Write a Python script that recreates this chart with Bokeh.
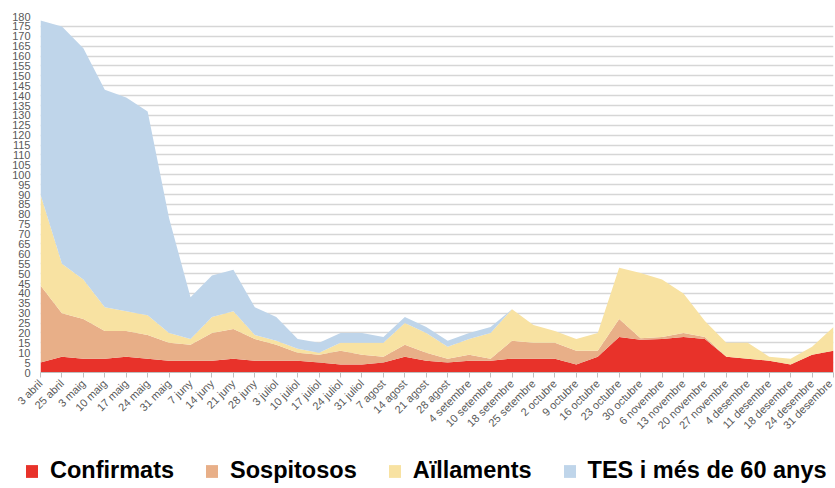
import math
from bokeh.plotting import figure
from bokeh.layouts import column
from bokeh.models import Range1d, FixedTicker, Legend, LegendItem, ColumnDataSource
from bokeh.embed import file_html
from bokeh.resources import INLINE

labels = ["3 abril", "25 abril", "3 maig", "10 maig", "17 maig", "24 maig", "31 maig",
          "7 juny", "14 juny", "21 juny", "28 juny", "3 juliol", "10 juliol", "17 juliol",
          "24 juliol", "31 juliol", "7 agost", "14 agost", "21 agost", "28 agost",
          "4 setembre", "10 setembre", "18 setembre", "25 setembre", "2 octubre",
          "9 octubre", "16 octubre", "23 octubre", "30 octubre", "6 novembre",
          "13 novembre", "20 novembre", "27 novembre", "4 desembre", "11 desembre",
          "18 desembre", "24 desembre", "31 desembre"]

confirmats = [5, 8, 7, 7, 8, 7, 6, 6, 6, 7, 6, 6, 6, 5, 4, 4, 5, 8, 6, 5,
              6, 6, 7, 7, 7, 4, 8, 18, 16.5, 17, 18, 17, 8, 7, 6, 4, 9, 11]
sospitosos = [39, 22, 20, 14, 13, 12, 9, 8, 14, 15, 11, 8, 4, 4, 7, 5, 3, 6, 4, 2,
              3, 1, 9, 8, 8, 7, 3, 9, 0.8, 1, 2, 1, 0, 0, 0, 0, 0, 0]
aillaments = [46, 25, 20, 12, 10, 10, 5, 3, 8, 9, 2, 2, 2, 1, 4, 6, 7, 11, 10, 6,
              8, 13, 16, 9, 6, 6, 9, 26, 33, 29, 20, 8, 7, 8, 2, 3, 4, 12]
tes = [88, 120, 117, 110, 108, 103, 58, 21, 21, 21, 14, 12, 5, 5, 5, 5, 3, 3, 3, 3,
       3, 3, 0, 0, 0, 0, 0, 0, 0, 0, 0, 0, 0, 0, 0, 0, 0, 0]

series_names = ["Confirmats", "Sospitosos", "Aïllaments", "TES i més de 60 anys"]
colors = ["#E8322A", "#E8AF88", "#F8E2A2", "#BFD5EA"]

n = len(labels)
src = ColumnDataSource(dict(x=list(range(n)), conf=confirmats, sosp=sospitosos,
                            ail=aillaments, tes=tes))

p = figure(width=834, height=455, output_backend="svg", toolbar_location=None,
           x_range=Range1d(0, n - 1), y_range=Range1d(0, 180),
           min_border_left=40, min_border_right=1, min_border_top=16,
           min_border_bottom=83)
p.outline_line_color = None
p.background_fill_color = "white"
p.frame_align = False

rs = p.varea_stack(stackers=["conf", "sosp", "ail", "tes"], x="x", color=colors,
                   source=src)

# axes
p.xaxis.ticker = FixedTicker(ticks=list(range(n)))
p.xaxis.major_label_overrides = {i: l for i, l in enumerate(labels)}
p.xaxis.major_label_orientation = math.pi / 4
p.xaxis.major_label_text_font = "Liberation Sans"
p.xaxis.major_label_text_font_size = "11px"
p.xaxis.major_label_text_color = "#595959"
p.xaxis.axis_line_color = "#BFBFBF"
p.xaxis.major_tick_line_color = "#BFBFBF"
p.xaxis.major_tick_out = 5
p.xaxis.major_tick_in = 0
p.xaxis.minor_tick_line_color = None
p.xaxis.major_label_standoff = 4

p.yaxis.ticker = FixedTicker(ticks=list(range(0, 181, 5)))
p.yaxis.major_label_text_font = "Liberation Sans"
p.yaxis.major_label_text_font_size = "11px"
p.yaxis.major_label_text_color = "#595959"
p.yaxis.axis_line_color = None
p.yaxis.major_tick_line_color = None
p.yaxis.major_tick_out = 0
p.yaxis.minor_tick_line_color = None
p.yaxis.major_label_standoff = 10

p.xgrid.grid_line_color = None
p.ygrid.ticker = FixedTicker(ticks=list(range(0, 181, 5)))
p.ygrid.grid_line_color = "#D6D6D6"
p.ygrid.grid_line_width = 1.5
p.ygrid.level = "image"

# legend strip
p2 = figure(width=834, height=32, output_backend="svg", toolbar_location=None,
            x_range=Range1d(0, 1), y_range=Range1d(0, 1),
            x_axis_type=None, y_axis_type=None,
            min_border_left=0, min_border_right=0, min_border_top=0,
            min_border_bottom=0)
p2.outline_line_color = None
p2.xgrid.grid_line_color = None
p2.ygrid.grid_line_color = None
p2.frame_align = False
nan = float("nan")
dummies = [p2.varea(x=[nan], y1=[nan], y2=[nan], color=c) for c in colors]

legend = Legend(items=[LegendItem(label=series_names[i], renderers=[dummies[i]])
                       for i in range(4)],
                orientation="horizontal", location=(24, 3),
                label_text_font="Liberation Sans", label_text_font_style="bold",
                label_text_font_size="23.5px", label_text_color="#000000",
                glyph_width=15, glyph_height=16, spacing=30, label_standoff=11,
                padding=0, margin=0, border_line_color=None,
                background_fill_alpha=0)
p2.add_layout(legend)

layout = column(p, p2, spacing=0)
open("out.html", "w").write(file_html(layout, INLINE))
